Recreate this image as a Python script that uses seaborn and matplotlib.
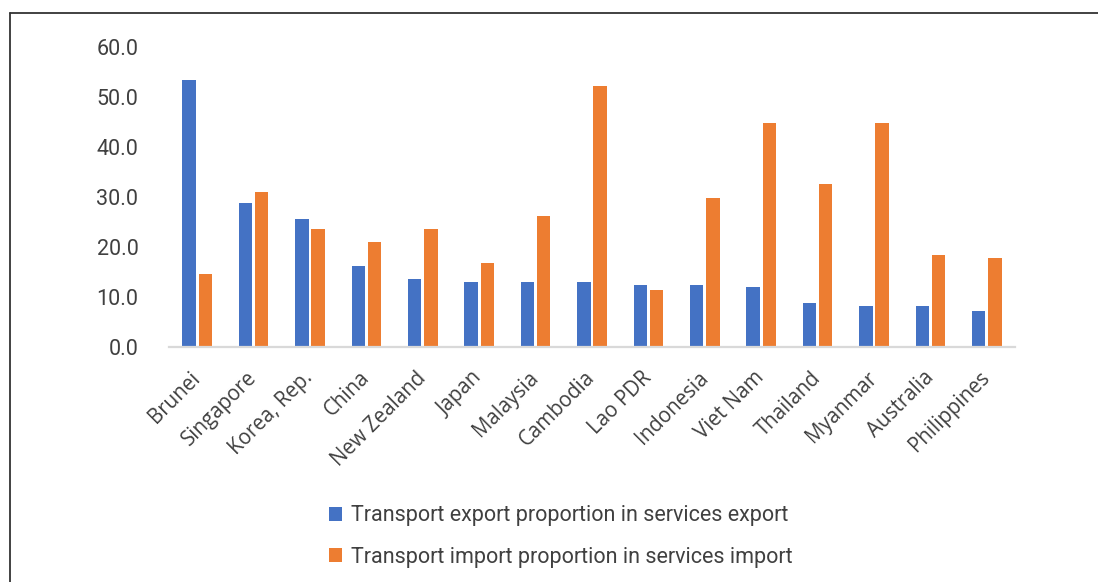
import pandas as pd
import seaborn as sns
import matplotlib.pyplot as plt
from matplotlib.lines import Line2D

countries = [
    "Brunei", "Singapore", "Korea, Rep.", "China", "New Zealand", "Japan",
    "Malaysia", "Cambodia", "Lao PDR", "Indonesia", "Viet Nam", "Thailand",
    "Myanmar", "Australia", "Philippines",
]
export_share = [53.3, 28.8, 25.6, 16.1, 13.5, 12.9, 12.9, 12.9, 12.3, 12.3,
                11.9, 8.7, 8.2, 8.2, 7.2]
import_share = [14.5, 31.0, 23.5, 20.9, 23.5, 16.7, 26.2, 52.1, 11.3, 29.8,
                44.7, 32.6, 44.7, 18.3, 17.7]
series_names = [
    "Transport export proportion in services export",
    "Transport import proportion in services import",
]
colors = ["#4472C4", "#ED7D31"]
y_ticks = [0, 10, 20, 30, 40, 50, 60]


def plot_transport_shares(output_file: str = "out.png") -> None:
    df = pd.DataFrame({
        "country": countries * 2,
        "value": export_share + import_share,
        "series": [series_names[0]] * len(countries) + [series_names[1]] * len(countries),
    })

    sns.set_style("white")
    fig = plt.figure(figsize=(10.98, 5.82), dpi=100)
    ax = fig.add_axes([169 / 1098, 1 - 347 / 582, (1015 - 169) / 1098, (347 - 46.7) / 582])

    sns.barplot(
        data=df, x="country", y="value", hue="series",
        hue_order=series_names, palette=colors,
        width=0.57, gap=0.17, linewidth=0, saturation=1,
        ax=ax,
    )

    ax.set_ylim(0, 60)
    ax.set_xlim(-0.5, len(countries) - 0.5)
    ax.set_yticks(y_ticks)
    ax.set_yticklabels([f"{t:.1f}" for t in y_ticks], family="Roboto",
                       fontsize=15.5, color="#404040")
    ax.set_xticks(range(len(countries)))
    ax.set_xticklabels(countries, rotation=45, ha="right", va="center",
                       rotation_mode="anchor", family="Open Sans",
                       fontsize=14.8, color="#404040")
    ax.tick_params(axis="y", length=0, pad=22)
    ax.tick_params(axis="x", length=0, pad=20)
    ax.set_xlabel("")
    ax.set_ylabel("")
    for side in ["left", "right", "top"]:
        ax.spines[side].set_visible(False)
    ax.spines["bottom"].set_color("#d9d9d9")
    ax.spines["bottom"].set_linewidth(1.6)

    handles, labels = ax.get_legend_handles_labels()
    ax.get_legend().remove()
    fig.legend(
        handles, labels, loc="upper left",
        bbox_to_anchor=(310 / 1098, 1 - 486 / 582),
        frameon=False, handlelength=0.6, handleheight=0.6,
        handletextpad=0.4, labelspacing=0.95,
        prop={"family": "Roboto", "size": 15.5}, labelcolor="#404040",
    )

    fig.add_artist(Line2D([10 / 1098, 10 / 1098], [0, 1 - 13 / 582],
                          transform=fig.transFigure, color="#333333", lw=1.3))
    fig.add_artist(Line2D([10 / 1098, 1], [1 - 13 / 582, 1 - 13 / 582],
                          transform=fig.transFigure, color="#333333", lw=1.3))

    fig.savefig(output_file, dpi=100)
    plt.close(fig)


if __name__ == "__main__":
    plot_transport_shares()
